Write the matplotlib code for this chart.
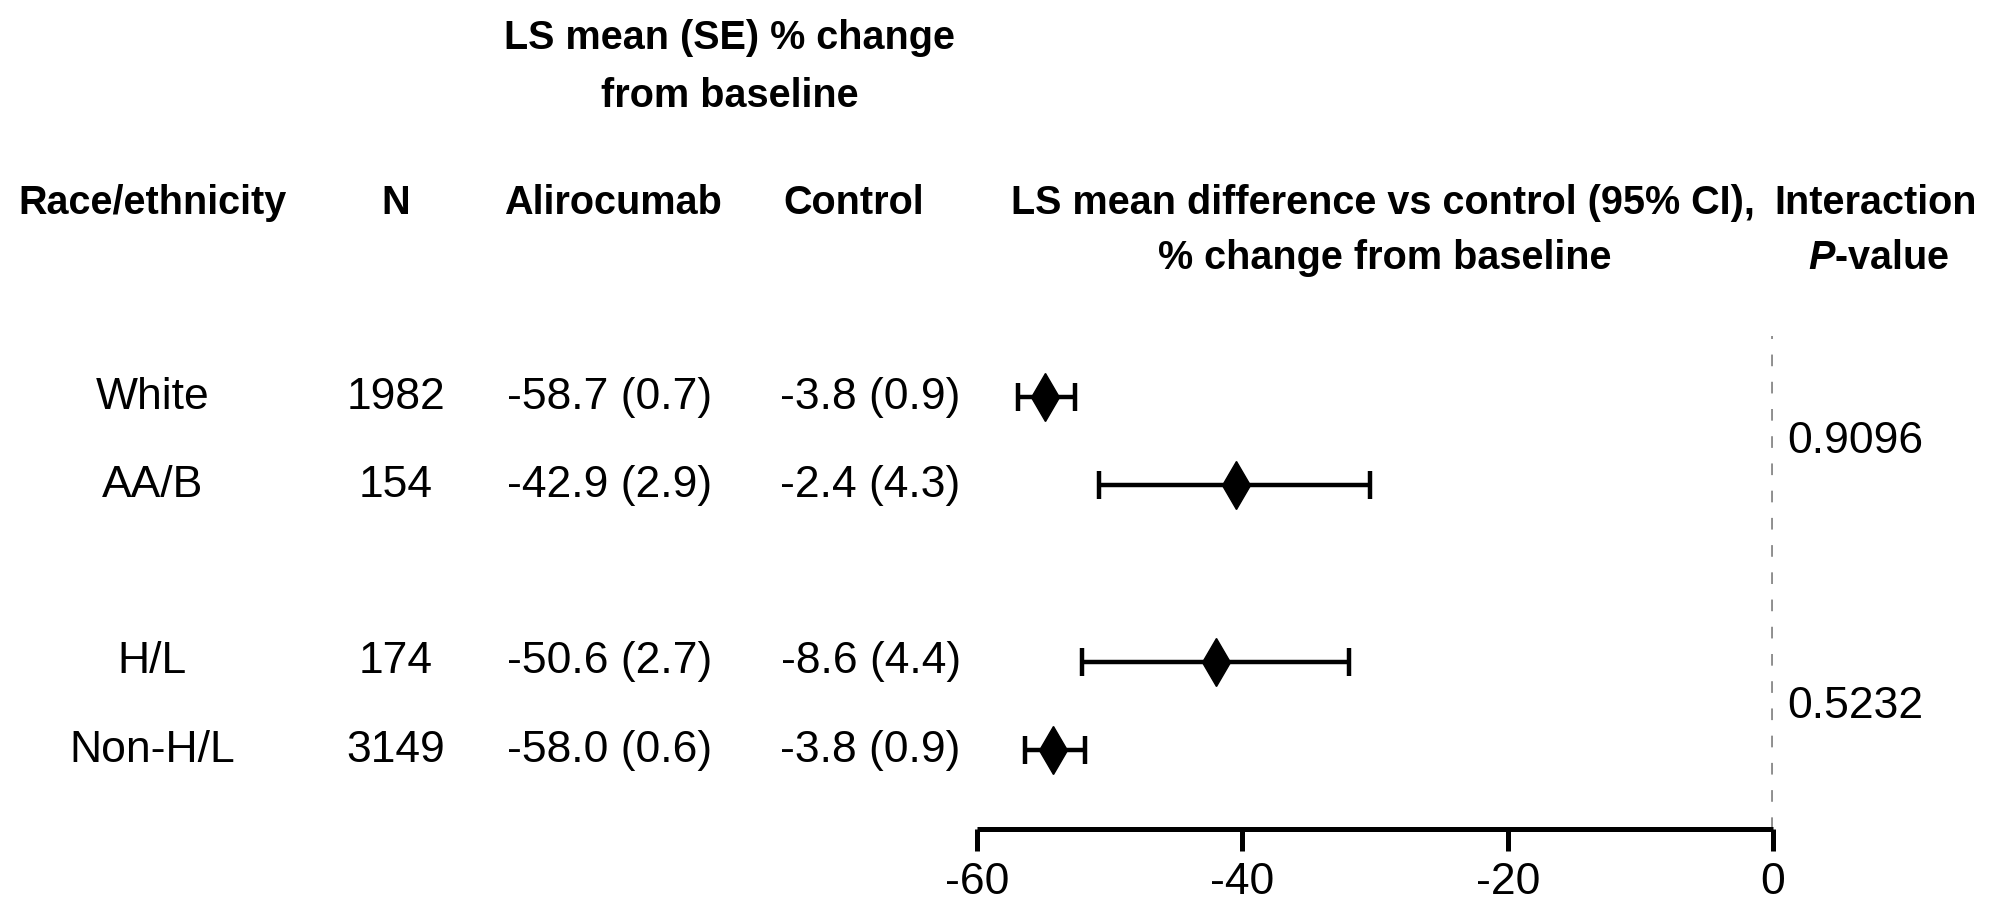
import matplotlib
matplotlib.use("Agg")
import matplotlib.pyplot as plt
import matplotlib.transforms as mtransforms
import numpy as np

# data
groups = ["White", "AA/B", "H/L", "Non-H/L"]
n_pts = ["1982", "154", "174", "3149"]
alirocumab = ["-58.7 (0.7)", "-42.9 (2.9)", "-50.6 (2.7)", "-58.0 (0.6)"]
control = ["-3.8 (0.9)", "-2.4 (4.3)", "-8.6 (4.4)", "-3.8 (0.9)"]
diff = [-54.9, -40.5, -42.0, -54.3]
ci_low = [-56.9, -50.8, -52.1, -56.4]
ci_high = [-52.6, -30.4, -32.0, -51.9]
pvals = ["0.9096", "0.5232"]
row_y = [0, 1, 3, 4]
pval_y = [0.5, 3.5]
xticks = [-60, -40, -20, 0]

plt.rcParams["font.family"] = ["Liberation Sans", "DejaVu Sans"]
plt.rcParams["mathtext.fontset"] = "custom"
plt.rcParams["mathtext.rm"] = "Liberation Sans:bold"
plt.rcParams["mathtext.it"] = "Liberation Sans:italic:bold"
plt.rcParams["mathtext.bf"] = "Liberation Sans:bold"

W, H = 1568, 717  # layout measured on the shrunk reference
fig = plt.figure(figsize=(19.9, 9.1), dpi=100)
ax = fig.add_axes([770 / W, 1 - 653 / H, (1397 - 770) / W, (653 - 265) / H])

d = np.array(diff)
xerr = [d - np.array(ci_low), np.array(ci_high) - d]
ax.errorbar(d, row_y, xerr=xerr, fmt="d", color="black", ms=24,
            elinewidth=3.2, capsize=10, capthick=3.2)
ax.axvline(0, color="#8f8f8f", ls=(0, (3, 4)), lw=2.8)

ax.set_xlim(-60, 0)
ax.set_ylim(4.89, -0.69)
ax.set_xticks(xticks)
ax.set_xticklabels([str(t) for t in xticks], fontsize=32)
ax.tick_params(axis="x", length=16, width=3.6, pad=8)
ax.set_yticks([])
for s in ["top", "right", "left"]:
    ax.spines[s].set_visible(False)
ax.spines["bottom"].set_linewidth(3.6)
ax.spines["bottom"].set_capstyle("butt")

fs = 32
# row texts, x in figure fraction, y in data
tr = mtransforms.blended_transform_factory(fig.transFigure, ax.transData)
for y, g, n, a, c in zip(row_y, groups, n_pts, alirocumab, control):
    fig.text(120 / W, y, g, transform=tr, ha="center", va="center", fontsize=fs)
    fig.text(312 / W, y, n, transform=tr, ha="center", va="center", fontsize=fs)
    fig.text(480 / W, y, a, transform=tr, ha="center", va="center", fontsize=fs)
    fig.text(686 / W, y, c, transform=tr, ha="center", va="center", fontsize=fs)
for y, p in zip(pval_y, pvals):
    fig.text(1462 / W, y, p, transform=tr, ha="center", va="center", fontsize=fs)

# headers
hdr = dict(ha="center", va="center", fontsize=28.5, fontweight="bold")
fig.text(575 / W, 1 - 30 / H, "LS mean (SE) % change", **hdr)
fig.text(575 / W, 1 - 76 / H, "from baseline", **hdr)
fig.text(120 / W, 1 - 160 / H, "Race/ethnicity", **hdr)
fig.text(312 / W, 1 - 160 / H, "N", **hdr)
fig.text(483 / W, 1 - 160 / H, "Alirocumab", **hdr)
fig.text(673 / W, 1 - 160 / H, "Control", **hdr)
fig.text(1090 / W, 1 - 160 / H, "LS mean difference vs control (95% CI),", **hdr)
fig.text(1091 / W, 1 - 203 / H, "% change from baseline", **hdr)
fig.text(1478 / W, 1 - 160 / H, "Interaction", **hdr)
fig.text(1480 / W, 1 - 203 / H, r"$\mathit{P}$-value", **hdr)

fig.savefig("out.png", dpi=100)
